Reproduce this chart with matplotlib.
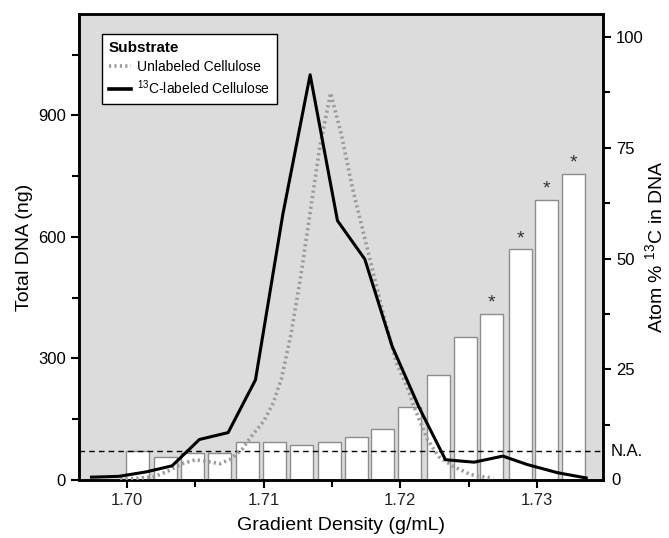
import numpy as np
import matplotlib
matplotlib.use('Agg')
import matplotlib.pyplot as plt
from matplotlib.ticker import MultipleLocator, FixedLocator
from matplotlib.lines import Line2D

plt.rcParams['font.family'] = ['Liberation Sans', 'DejaVu Sans']
plt.rcParams['mathtext.default'] = 'regular'

# Atom % 13C bars (right axis)
bar_density = [1.7008, 1.7028, 1.7048, 1.7068, 1.7088, 1.7108, 1.7128, 1.7148, 1.7168,
               1.7187, 1.7207, 1.7228, 1.7248, 1.7267, 1.7288, 1.7307, 1.7327]
atom_pct = [6.5, 5.1, 6.2, 6.2, 8.5, 8.5, 7.9, 8.6, 9.8,
            11.6, 16.5, 23.7, 32.3, 37.5, 52.1, 63.2, 69.1]
significant = [False] * 13 + [True] * 4

# 13C-labeled cellulose, total DNA (ng)
labeled_density = [1.6974, 1.6994, 1.7014, 1.7033, 1.7053, 1.7074, 1.7094, 1.7114, 1.7134, 1.7154,
                   1.7174, 1.7194, 1.7214, 1.7233, 1.7254, 1.7275, 1.7293, 1.7315, 1.7336]
labeled_dna = [7, 9, 20, 35, 100, 117, 247, 655, 1000, 640,
               545, 330, 177, 50, 44, 59, 38, 18, 5]

# unlabeled cellulose, total DNA (ng)
unlabeled_density = [1.6995, 1.7000, 1.7010, 1.7020, 1.7030, 1.7040, 1.7050, 1.7060, 1.7068, 1.7076,
                     1.7084, 1.7092, 1.7100, 1.7107, 1.7113, 1.7120, 1.7127, 1.7134, 1.7141, 1.7149,
                     1.7157, 1.7165, 1.7173, 1.7181, 1.7189, 1.7197, 1.7205, 1.7210, 1.7220, 1.7228,
                     1.7238, 1.7251, 1.7260, 1.7268]
unlabeled_dna = [3, 3, 5, 8, 22, 40, 50, 45, 40, 52,
                 75, 112, 145, 190, 250, 360, 500, 660, 820, 955,
                 850, 720, 610, 500, 390, 290, 230, 181, 99, 58,
                 35, 14, 8, 5]

na_level = 6.5
xticks = [1.70, 1.71, 1.72, 1.73]

fig = plt.figure(figsize=(6.69, 5.38), dpi=100)
ax = fig.add_axes([0.1181, 0.1078, 0.7833, 0.8662])
ax2 = ax.twinx()
ax.set_zorder(ax2.get_zorder() + 1)
ax.patch.set_visible(False)
ax2.patch.set_visible(True)
ax2.patch.set_facecolor('#dcdcdc')

# bars on right axis
ax2.bar(bar_density, atom_pct, width=0.00168, color='white', edgecolor='#8c8c8c',
        linewidth=1.0, zorder=2)
for x, h, s in zip(bar_density, atom_pct, significant):
    if s:
        ax2.text(x, h + 0.5, '*', ha='center', va='bottom', fontsize=14, color='#333333', zorder=3)
ax2.axhline(na_level, color='black', linestyle=(0, (4, 3)), linewidth=1.0, zorder=4)

ax2.set_axisbelow(True)
ax2.xaxis.grid(True, which='major', color='white', linewidth=1.8)
ax2.xaxis.grid(True, which='minor', color='white', linewidth=1.0, alpha=0.85)

# lines on left axis
ax.plot(unlabeled_density, unlabeled_dna, color='#9a9a9a', linewidth=2.6,
        linestyle=(0, (0.6, 0.9)), zorder=3)
ax.plot(labeled_density, labeled_dna, color='black', linewidth=2.2, zorder=4)

ax.set_xlim(1.69649, 1.73483)
ax.set_ylim(0, 1150)
ax2.set_ylim(0, 105.2)

ax.set_xticks(xticks)
ax.set_xticklabels(['%.2f' % t for t in xticks])
ax.xaxis.set_minor_locator(MultipleLocator(0.005))
ax2.xaxis.set_minor_locator(MultipleLocator(0.005))
ax.yaxis.set_major_locator(FixedLocator([0, 300, 600, 900]))
ax.yaxis.set_minor_locator(FixedLocator([150, 450, 750, 1050]))
ax2.yaxis.set_major_locator(FixedLocator([25, 50, 75, 100]))
ax2.yaxis.set_minor_locator(FixedLocator([12.5, 37.5, 62.5, 87.5]))

for a in (ax, ax2):
    a.tick_params(which='major', direction='out', length=6, width=1.5, labelsize=12, colors='black')
    a.tick_params(which='minor', direction='out', length=5, width=1.5)
    for sp in a.spines.values():
        sp.set_linewidth(1.8)

ax.tick_params(axis='x', labelcolor='#222222')
ax2.text(1.015, na_level, 'N.A.', transform=ax2.get_yaxis_transform(), va='center',
         ha='left', fontsize=12)
ax2.text(1.015, 0, '0', transform=ax2.get_yaxis_transform(), va='center',
         ha='left', fontsize=12)

ax.set_xlabel('Gradient Density (g/mL)', fontsize=14)
ax.set_ylabel('Total DNA (ng)', fontsize=14)
ax2.set_ylabel('Atom % $^{13}$C in DNA', fontsize=14)
ax.xaxis.set_label_coords(0.5, -0.079)
ax.yaxis.set_label_coords(-0.088, 0.5)
ax2.yaxis.set_label_coords(1.079, 0.5)

handles = [Line2D([], [], color='#9a9a9a', linewidth=2.6, linestyle=(0, (0.6, 0.9))),
           Line2D([], [], color='black', linewidth=2.6)]
leg = ax.legend(handles, ['Unlabeled Cellulose', '$^{13}$C-labeled Cellulose'],
                loc='upper left', bbox_to_anchor=(0.044, 0.957), borderaxespad=0,
                title='Substrate', title_fontproperties={'weight': 'bold', 'size': 11},
                alignment='left', fontsize=10, handlelength=1.6, handletextpad=0.4,
                fancybox=False, framealpha=1, edgecolor='black', borderpad=0.5,
                labelspacing=0.35)
leg.get_frame().set_linewidth(1.0)

fig.savefig('out.png', dpi=100)
